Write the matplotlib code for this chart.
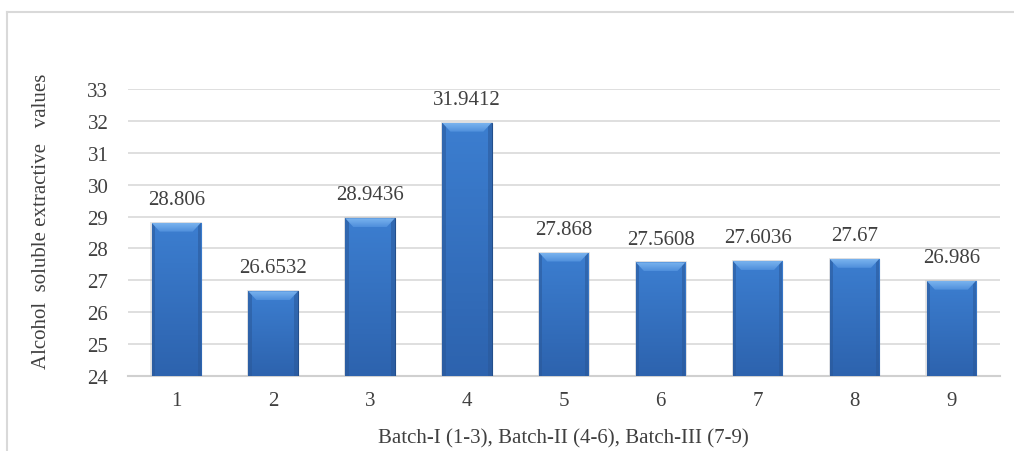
import matplotlib.pyplot as plt
import numpy as np
from matplotlib.colors import LinearSegmentedColormap
from matplotlib.lines import Line2D
from matplotlib.patches import Polygon, Rectangle

plt.rcParams["font.family"] = ["Liberation Serif", "DejaVu Serif"]

samples = ["1", "2", "3", "4", "5", "6", "7", "8", "9"]
values = [28.806, 26.6532, 28.9436, 31.9412, 27.868, 27.5608, 27.6036, 27.67, 26.986]
labels = ["28.806", "26.6532", "28.9436", "31.9412", "27.868", "27.5608", "27.6036", "27.67", "26.986"]
yticks = [24, 25, 26, 27, 28, 29, 30, 31, 32, 33]

text_col = "#404040"
width = 0.51
body_cmap = LinearSegmentedColormap.from_list("body", ["#2D63AE", "#3C7ED0"])
cap_cmap = LinearSegmentedColormap.from_list("cap", ["#4E8FDC", "#7AB3EE"])

fig = plt.figure(figsize=(10.14, 4.52), dpi=100)
ax = fig.add_axes([0.126, 0.166, 0.86, 0.635])

x = np.arange(len(values))
ymin = yticks[0]

grad = np.linspace(0, 1, 64).reshape(-1, 1)
for xi, v in zip(x, values):
    # soft shadow behind bar
    ax.add_patch(Rectangle((xi - width / 2 - 0.012, ymin), width + 0.024, v - ymin + 0.03,
                           facecolor="#BBBBBB", alpha=0.35, lw=0, zorder=2.5))
    rect = Rectangle((xi - width / 2, ymin), width, v - ymin, facecolor="#3470BE",
                     edgecolor="#234F8C", linewidth=0.8, zorder=3)
    ax.add_patch(rect)
    im = ax.imshow(grad, extent=(xi - width / 2, xi + width / 2, ymin, v),
                   cmap=body_cmap, aspect="auto", origin="lower", zorder=3.5)
    im.set_clip_path(rect)
    side = 0.035
    ax.add_patch(Rectangle((xi - width / 2, ymin), side, v - ymin,
                           facecolor="#2A5898", alpha=0.55, lw=0, zorder=4))
    ax.add_patch(Rectangle((xi + width / 2 - side, ymin), side, v - ymin,
                           facecolor="#2A5898", alpha=0.55, lw=0, zorder=4))
    # top bevel
    dx, dy = 0.085, 0.28
    cap = Polygon([(xi - width / 2, v), (xi + width / 2, v),
                   (xi + width / 2 - dx, v - dy), (xi - width / 2 + dx, v - dy)],
                  closed=True, facecolor="none", edgecolor="none", zorder=5)
    ax.add_patch(cap)
    cim = ax.imshow(grad, extent=(xi - width / 2, xi + width / 2, v - dy, v),
                    cmap=cap_cmap, aspect="auto", origin="lower", zorder=5)
    cim.set_clip_path(cap)
    ax.annotate(labels[xi], (xi, v), xytext=(0, 10), textcoords="offset points",
                ha="center", va="bottom", fontsize=15, color=text_col)

ax.set_xlim(-0.5, len(values) - 0.5)
ax.set_ylim(yticks[0], yticks[-1])
ax.set_yticks(yticks)
ax.set_xticks(x)
ax.set_xticklabels(samples)
ax.tick_params(length=0, labelsize=15, labelcolor=text_col)
ax.tick_params(axis="x", pad=11)
ax.tick_params(axis="y", pad=14)
ax.yaxis.grid(True, color="#D9D9D9", linewidth=1.2, zorder=0)
ax.set_axisbelow(True)
for s in ["top", "right", "left"]:
    ax.spines[s].set_visible(False)
ax.spines["bottom"].set_color("#D0D0D0")
ax.spines["bottom"].set_linewidth(1.5)

ax.set_ylabel("Alcohol  soluble extractive   values", fontsize=15, color=text_col)
ax.yaxis.set_label_coords(-0.088, 0.543)
ax.set_xlabel("Batch-I (1-3), Batch-II (4-6), Batch-III (7-9)", fontsize=15,
              color=text_col, labelpad=13)

# outer frame (top and left only visible)
fig.add_artist(Line2D([7 / 1014, 1], [1 - 13 / 452, 1 - 13 / 452],
                      transform=fig.transFigure, color="#D9D9D9", lw=1.5))
fig.add_artist(Line2D([7 / 1014, 7 / 1014], [0, 1 - 13 / 452],
                      transform=fig.transFigure, color="#D9D9D9", lw=1.5))

fig.savefig("out.png", dpi=100)
